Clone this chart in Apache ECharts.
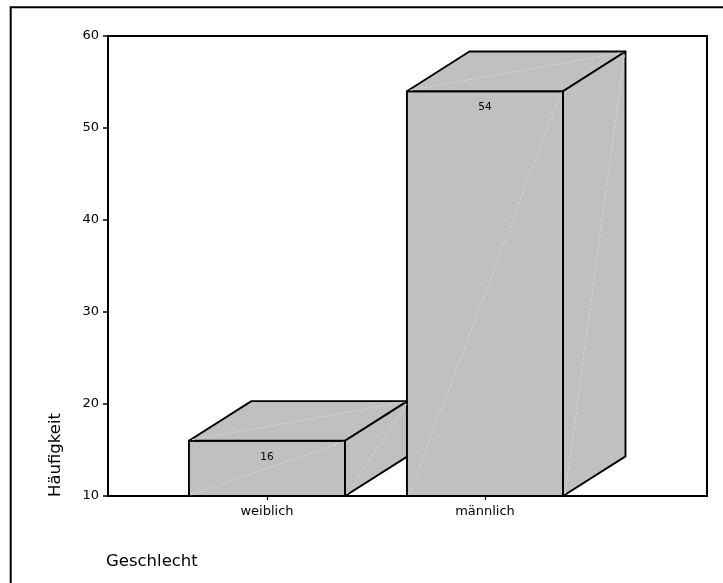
<!DOCTYPE html>
<html>
<head>
<meta charset="utf-8">
<script src="https://cdn.jsdelivr.net/npm/echarts@6/dist/echarts.min.js"></script>
<style>
  html, body { margin: 0; padding: 0; background: #fff; }
  #chart { width: 723px; height: 583px; }
</style>
</head>
<body>
<div id="chart"></div>
<script>
// Gender frequency counts
const categories = ['weiblich', 'männlich'];
const counts = [16, 54];
const yTicks = [10, 20, 30, 40, 50, 60];
const xTitle = 'Geschlecht';
const yTitle = 'Häufigkeit';

const FONT = '"DejaVu Sans", Verdana, sans-serif';
const FACE = '#c0c0c0';
const EDGE = '#000';
const SHEEN = '#d6d6d6';

const chart = echarts.init(document.getElementById('chart'), null, { renderer: 'canvas' });

function poly(points, z) {
  return {
    type: 'polygon',
    z2: z,
    shape: { points: points },
    style: { fill: FACE, stroke: EDGE, lineWidth: 1.9, lineJoin: 'round' }
  };
}
function sheen(p1, p2, z) {
  return {
    type: 'line',
    z2: z,
    shape: { x1: p1[0], y1: p1[1], x2: p2[0], y2: p2[1] },
    style: { stroke: SHEEN, lineWidth: 1, lineDash: [3, 2] }
  };
}

// Block with front, top and right-hand faces
function renderBox(params, api) {
  const idx = api.value(0);
  const val = api.value(1);
  const top = api.coord([idx, val]);
  const base = api.coord([idx, yTicks[0]]);
  const band = api.size([1, 0])[0];
  const w = band * 0.716;
  const dx = w * 0.4;
  const dy = dx * 0.635;
  const xL = top[0] - w / 2, xR = top[0] + w / 2;
  const yT = top[1], yB = base[1];

  return {
    type: 'group',
    children: [
      poly([[xL, yB], [xR, yB], [xR, yT], [xL, yT]], 1),
      poly([[xL, yT], [xL + dx, yT - dy], [xR + dx, yT - dy], [xR, yT]], 1),
      poly([[xR, yT], [xR + dx, yT - dy], [xR + dx, yB - dy], [xR, yB]], 1),
      sheen([xL + 2, yB - 1], [xR - 2, yT + 1], 2),
      sheen([xL + 3, yT - 1], [xR + dx - 3, yT - dy + 1], 2),
      sheen([xR + 2, yB - 2], [xR + dx - 1, yT - dy + 3], 2),
      {
        type: 'text',
        z2: 3,
        style: {
          text: String(val),
          x: top[0],
          y: yT + 16,
          align: 'center',
          verticalAlign: 'middle',
          font: '10.5px ' + FONT,
          fill: '#000'
        }
      }
    ]
  };
}

const option = {
  animation: false,
  backgroundColor: '#fff',
  grid: [
    { left: 108, right: 16, top: 36, bottom: 87, show: true, borderColor: '#000', borderWidth: 2, backgroundColor: 'transparent' },
    { left: 158, right: 129, top: 36, bottom: 87 }
  ],
  xAxis: [
    { gridIndex: 0, type: 'value', show: false, min: 0, max: 1 },
    {
      gridIndex: 1,
      type: 'category',
      data: categories,
      axisLine: { show: false },
      axisTick: { show: true, alignWithLabel: true, length: 4, lineStyle: { color: '#000', width: 1.2 } },
      axisLabel: { color: '#000', fontSize: 13, fontFamily: FONT, margin: 9 },
      splitLine: { show: false }
    }
  ],
  yAxis: [
    {
      gridIndex: 0,
      type: 'value',
      min: yTicks[0],
      max: yTicks[yTicks.length - 1],
      interval: 10,
      axisLine: { show: true, lineStyle: { color: '#000', width: 2 } },
      axisTick: { show: true, length: 5, lineStyle: { color: '#000', width: 1.5 } },
      axisLabel: { color: '#000', fontSize: 13, fontFamily: FONT, margin: 9 },
      splitLine: { show: false }
    },
    { gridIndex: 1, type: 'value', min: yTicks[0], max: yTicks[yTicks.length - 1], show: false }
  ],
  series: [
    {
      type: 'custom',
      xAxisIndex: 1,
      yAxisIndex: 1,
      renderItem: renderBox,
      data: categories.map((c, i) => [i, counts[i]]),
      clip: false
    }
  ],
  graphic: [
    {
      type: 'rect',
      silent: true,
      shape: { x: 10.7, y: 7.3, width: 800, height: 700 },
      style: { fill: 'none', stroke: '#000', lineWidth: 2 }
    },
    {
      type: 'text',
      left: 106,
      top: 553,
      style: { text: xTitle, font: '16.5px ' + FONT, fill: '#000' }
    },
    {
      type: 'text',
      x: 56,
      y: 497,
      rotation: Math.PI / 2,
      style: { text: yTitle, font: '16.5px ' + FONT, fill: '#000', align: 'left', verticalAlign: 'middle' }
    }
  ]
};

chart.setOption(option);
</script>
</body>
</html>
